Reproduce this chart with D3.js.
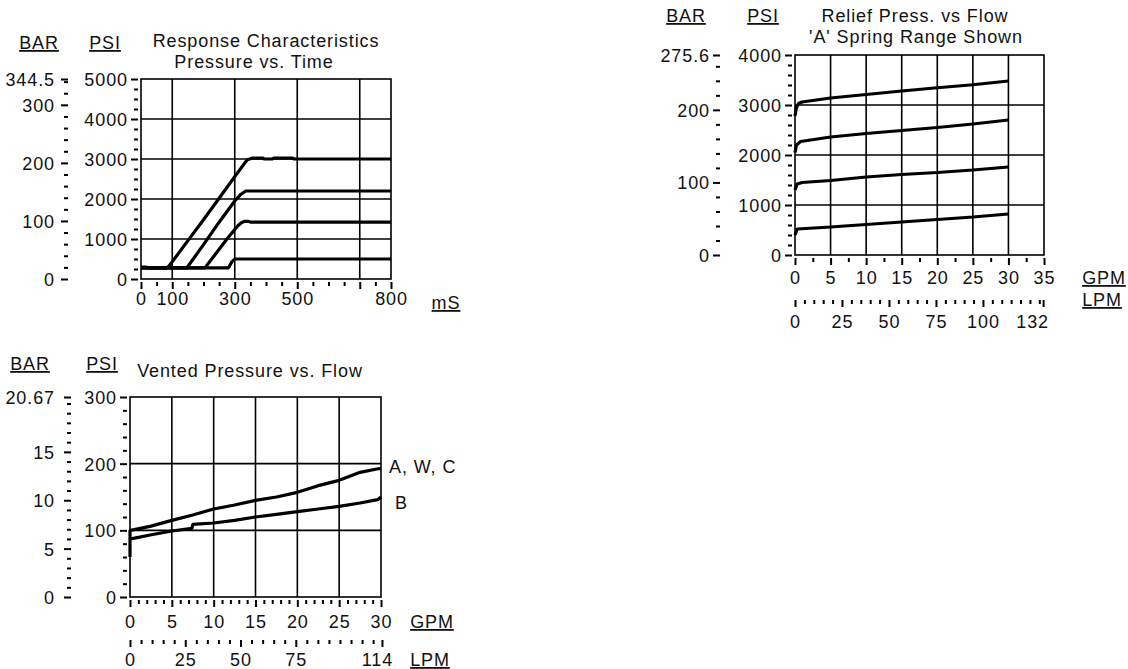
<!DOCTYPE html>
<html>
<head>
<meta charset="utf-8">
<script src="https://cdn.jsdelivr.net/npm/d3@7.9.0/dist/d3.min.js"></script>
<style>
  body { margin: 0; background: #fff; }
  svg text { font-family: "Liberation Sans", Arial, sans-serif; font-size: 18px; fill: #111; letter-spacing: 0.9px; }
</style>
</head>
<body>
<svg id="chart" width="1128" height="669"></svg>
<script>
const LPM_PER_GPM = 3.7854;

// --- Response Characteristics (mS vs PSI)
const respTimeLabels = [0, 100, 300, 500, 800];
const respTimeMajor = [0, 100, 300, 500, 700, 800];
const respTimeGrid = [100, 300, 500, 700];
const respPsiLabels = [0, 1000, 2000, 3000, 4000, 5000];
const respPsiGrid = [1000, 2000, 3000, 4000];
const respBarLabels = [0, 100, 200, 300, 344.5];
const resp3000 = [[0, 300], [12, 300], [30, 280], [85, 280], [100, 430], [150, 960], [200, 1480], [250, 2020], [300, 2560], [340, 2980], [355, 3020], [390, 3020], [395, 3000], [420, 3000], [425, 3020], [485, 3020], [490, 3000], [800, 3000]];
const resp2200 = [[0, 280], [147, 280], [200, 860], [250, 1420], [300, 1950], [320, 2120], [335, 2200], [800, 2200]];
const resp1400 = [[0, 280], [205, 280], [275, 1000], [310, 1330], [320, 1400], [330, 1440], [345, 1440], [350, 1420], [800, 1420]];
const resp500 = [[0, 280], [280, 280], [290, 420], [300, 500], [800, 500]];

// --- Relief Press. vs Flow (GPM vs PSI)
const reliefGpmLabels = [0, 5, 10, 15, 20, 25, 30, 35];
const reliefGpmGrid = [5, 10, 15, 20, 25, 30];
const reliefLpmLabels = [0, 25, 50, 75, 100, 132];
const reliefPsiLabels = [0, 1000, 2000, 3000, 4000];
const reliefPsiGrid = [1000, 2000, 3000];
const reliefBarLabels = [0, 100, 200, 275.6];
const reliefA = [[0, 2780], [0.2, 2950], [0.5, 3030], [1, 3060], [3, 3100], [5, 3140], [10, 3210], [15, 3280], [20, 3345], [25, 3405], [30, 3480]];
const reliefB = [[0, 2050], [0.2, 2200], [0.8, 2270], [5, 2360], [10, 2430], [15, 2490], [20, 2550], [25, 2620], [30, 2700]];
const reliefC = [[0, 1300], [0.3, 1420], [1, 1450], [5, 1490], [10, 1560], [15, 1610], [20, 1650], [25, 1700], [30, 1760]];
const reliefD = [[0, 400], [0.3, 520], [5, 560], [10, 610], [15, 660], [20, 710], [25, 760], [30, 820]];

// --- Vented Pressure vs. Flow (GPM vs PSI)
const ventGpmLabels = [0, 5, 10, 15, 20, 25, 30];
const ventGpmGrid = [5, 10, 15, 20, 25];
const ventLpmLabels = [0, 25, 50, 75, 114];
const ventPsiLabels = [0, 100, 200, 300];
const ventPsiGrid = [100, 200];
const ventBarLabels = [0, 5, 10, 15, 20.67];
const ventAWC = [[0, 60], [0, 100], [0.5, 101], [2.4, 106], [5, 115], [7.5, 123], [10, 132], [12.5, 138], [15, 145], [17.5, 150], [20, 157], [22.5, 167], [25, 175], [27.5, 187], [29.5, 192], [30, 193]];
const ventB = [[0, 87], [0.4, 88], [2.4, 93], [5, 99], [7.4, 103], [7.5, 109], [10, 111], [12.5, 115], [15, 120], [17.5, 124], [20, 128], [22.5, 132], [25, 136], [27.5, 141], [29.6, 146], [30, 150]];

const svg = d3.select('#chart');

function tickRow(g, axisFn, scale, values, size, pad, labels, tx, ty) {
  const ax = axisFn(scale).tickValues(values).tickSize(size).tickPadding(pad)
    .tickFormat(labels ? (d => String(d)) : '');
  const grp = g.append('g').attr('transform', `translate(${tx},${ty})`).call(ax);
  grp.select('.domain').remove();
  grp.selectAll('line').attr('stroke', '#000').attr('stroke-width', 2);
  return grp;
}

function minorOf(step, lo, hi, majors) {
  return d3.range(lo, hi + 1e-9, step).filter(v => !majors.some(m => Math.abs(m - v) < 1e-6));
}

function text(g, str, x, y, anchor, underline) {
  const t = g.append('text').attr('x', x).attr('y', y).attr('text-anchor', anchor || 'start').text(str);
  if (underline) t.attr('text-decoration', 'underline');
  return t;
}

function panel(p) {
  const g = svg.append('g');
  const x = d3.scaleLinear().domain(p.xDomain).range([p.left, p.right]);
  const y = d3.scaleLinear().domain(p.yDomain).range([p.bottom, p.top]);
  const yBar = d3.scaleLinear().domain(p.barDomain).range([p.bottom, p.top]);

  g.append('g').selectAll('line').data(p.xGrid).join('line')
    .attr('x1', d => x(d)).attr('x2', d => x(d)).attr('y1', p.top).attr('y2', p.bottom)
    .attr('stroke', '#000').attr('stroke-width', 1.6);
  g.append('g').selectAll('line').data(p.yGrid).join('line')
    .attr('y1', d => y(d)).attr('y2', d => y(d)).attr('x1', p.left).attr('x2', p.right)
    .attr('stroke', '#000').attr('stroke-width', 1.6);
  g.append('rect').attr('x', p.left).attr('y', p.top)
    .attr('width', p.right - p.left).attr('height', p.bottom - p.top)
    .attr('fill', 'none').attr('stroke', '#000').attr('stroke-width', 1.6);

  const line = d3.line().x(d => x(d[0])).y(d => y(d[1]));
  g.append('g').selectAll('path').data(p.series).join('path')
    .attr('d', line).attr('fill', 'none').attr('stroke', '#000')
    .attr('stroke-width', 3.2).attr('stroke-linejoin', 'bevel');

  // PSI axis
  tickRow(g, d3.axisLeft, y, minorOf(p.psiMinor, p.yDomain[0], p.yDomain[1], p.psiLabels), 4, 0, false, p.left - 3, 0);
  const psi = tickRow(g, d3.axisLeft, y, p.psiLabels, 7, 3, true, p.left - 3, 0);
  // BAR axis
  tickRow(g, d3.axisLeft, yBar, minorOf(p.barMinor, p.barDomain[0], p.barDomain[1], p.barLabels), 4, 0, false, p.barX, 0);
  const bar = tickRow(g, d3.axisLeft, yBar, p.barLabels, 7, p.barPad, true, p.barX, 0);
  [psi, bar].forEach(a => a.selectAll('text').attr('dy', '0.36em'));

  // bottom axis
  const xMaj = p.xMajor || p.xLabels;
  tickRow(g, d3.axisBottom, x, minorOf(p.xMinor, p.xDomain[0], p.xDomain[1], xMaj), 4, 0, false, 0, p.bottom + 3);
  tickRow(g, d3.axisBottom, x, xMaj, 7, 0, false, 0, p.bottom + 3);
  tickRow(g, d3.axisBottom, x, p.xLabels, 0, p.xPad, true, 0, p.bottom + 3);

  if (p.lpmLabels) {
    const lpm = d3.scaleLinear().domain([p.xDomain[0] * LPM_PER_GPM, p.xDomain[1] * LPM_PER_GPM]).range([p.left, p.right]);
    const lpmMaj = p.lpmLabels;
    tickRow(g, d3.axisBottom, lpm, minorOf(5, 0, p.lpmEnd, lpmMaj), 4, 0, false, 0, p.lpmY);
    tickRow(g, d3.axisBottom, lpm, lpmMaj, 7, 0, false, 0, p.lpmY);
    const lab = tickRow(g, d3.axisBottom, lpm, p.lpmLabels, 0, p.lpmPad, true, 0, p.lpmY);
    lab.selectAll('text').attr('dx', d => d === p.lpmEnd ? p.lpmEndDx : 0);
  }
  return g;
}

// Response Characteristics
const g1 = panel({
  left: 141, right: 391, top: 79, bottom: 279,
  xDomain: [0, 800], yDomain: [0, 5000], barDomain: [0, 344.5],
  xGrid: respTimeGrid, yGrid: respPsiGrid,
  series: [resp3000, resp2200, resp1400, resp500],
  psiLabels: respPsiLabels, psiMinor: 250,
  barLabels: respBarLabels, barMinor: 20, barX: 68, barPad: 6,
  xLabels: respTimeLabels, xMajor: respTimeMajor, xMinor: 50, xPad: 10
});
text(g1, 'BAR', 39, 49, 'middle', true);
text(g1, 'PSI', 105, 49, 'middle', true);
text(g1, 'Response Characteristics', 266, 47, 'middle');
text(g1, 'Pressure vs. Time', 254, 68, 'middle');
text(g1, 'mS', 446, 309, 'middle', true);

// Relief Press. vs Flow
const g2 = panel({
  left: 795, right: 1044, top: 55, bottom: 255,
  xDomain: [0, 35], yDomain: [0, 4000], barDomain: [0, 275.6],
  xGrid: reliefGpmGrid, yGrid: reliefPsiGrid,
  series: [reliefA, reliefB, reliefC, reliefD],
  psiLabels: reliefPsiLabels, psiMinor: 200,
  barLabels: reliefBarLabels, barMinor: 20, barX: 720, barPad: 3,
  xLabels: reliefGpmLabels, xMinor: 2.5, xPad: 13,
  lpmLabels: reliefLpmLabels, lpmEnd: 132, lpmEndDx: -11, lpmY: 300, lpmPad: 15
});
text(g2, 'BAR', 686, 22, 'middle', true);
text(g2, 'PSI', 763, 22, 'middle', true);
text(g2, 'Relief Press. vs Flow', 915, 22, 'middle');
text(g2, "'A' Spring Range Shown", 916, 43, 'middle');
text(g2, 'GPM', 1104, 284, 'middle', true);
text(g2, 'LPM', 1102, 306, 'middle', true);

// Vented Pressure vs. Flow
const g3 = panel({
  left: 130, right: 381, top: 397, bottom: 597,
  xDomain: [0, 30], yDomain: [0, 300], barDomain: [0, 20.67],
  xGrid: ventGpmGrid, yGrid: ventPsiGrid,
  series: [ventAWC, ventB],
  psiLabels: ventPsiLabels, psiMinor: 20,
  barLabels: ventBarLabels, barMinor: 1, barX: 71, barPad: 9,
  xLabels: ventGpmLabels, xMinor: 1, xPad: 15,
  lpmLabels: ventLpmLabels, lpmEnd: 114, lpmEndDx: -5, lpmY: 640, lpmPad: 13
});
text(g3, 'BAR', 30, 370, 'middle', true);
text(g3, 'PSI', 102, 370, 'middle', true);
text(g3, 'Vented Pressure vs. Flow', 250, 377, 'middle');
text(g3, 'A, W, C', 389, 473, 'start');
text(g3, 'B', 395, 509, 'start');
text(g3, 'GPM', 432, 628, 'middle', true);
text(g3, 'LPM', 430, 666, 'middle', true);
</script>
</body>
</html>
